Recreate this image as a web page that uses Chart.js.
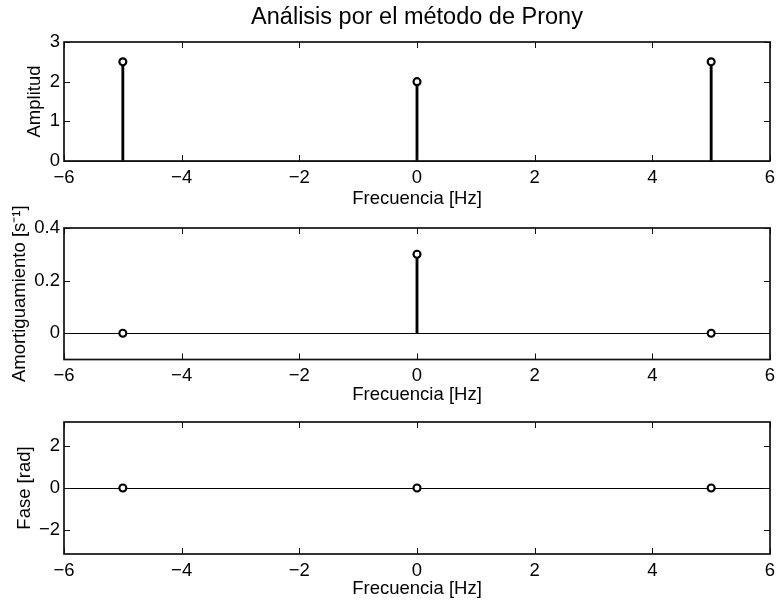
<!DOCTYPE html>
<html lang="es">
<head>
<meta charset="utf-8">
<title>Análisis por el método de Prony</title>
<script src="https://cdn.jsdelivr.net/npm/chart.js@4.4.1/dist/chart.umd.min.js"></script>
<style>
  html, body { margin: 0; padding: 0; background: #fff; }
  #wrap { position: relative; width: 777px; height: 601px; }
  #wrap canvas { position: absolute; left: 0; top: 0; }
</style>
</head>
<body>
<div id="wrap">
  <canvas id="ampChart" width="777" height="601"></canvas>
  <canvas id="dampChart" width="777" height="601"></canvas>
  <canvas id="phaseChart" width="777" height="601"></canvas>
</div>
<script>
// =================== DATA (Prony components) ===================
const freqHz = [-5, 0, 5];
const amplitud = [2.5, 2.0, 2.5];
const amortiguamiento = [0, 0.3, 0];
const fase = [0, 0, 0];

const freqTicks = [-6, -4, -2, 0, 2, 4, 6];
const ampTicks = [0, 1, 2, 3];
const dampTicks = [0, 0.2, 0.4];
const phaseTicks = [-2, 0, 2];

// =================== STYLE ===================
const FONT = "'Liberation Sans', Arial, Helvetica, sans-serif";
const LABEL_SIZE = 18.5;
const TITLE_SIZE = 23.5;
const TICK_LEN = 6;
const LH = LABEL_SIZE * 1.2;

Chart.defaults.font.family = FONT;
Chart.defaults.color = "#000";

// frame around the axes + inward tick marks on all four sides
const boxFrame = {
  id: "boxFrame",
  afterDatasetsDraw(chart) {
    const { ctx, chartArea: a, scales } = chart;
    ctx.save();
    ctx.strokeStyle = "#111";
    ctx.lineWidth = 1;
    ctx.beginPath();
    scales.x.ticks.forEach((t) => {
      const px = Math.round(scales.x.getPixelForValue(t.value)) + 0.5;
      ctx.moveTo(px, a.bottom);
      ctx.lineTo(px, a.bottom - TICK_LEN);
      ctx.moveTo(px, a.top);
      ctx.lineTo(px, a.top + TICK_LEN);
    });
    scales.y.ticks.forEach((t) => {
      const py = Math.round(scales.y.getPixelForValue(t.value)) + 0.5;
      ctx.moveTo(a.left, py);
      ctx.lineTo(a.left + TICK_LEN, py);
      ctx.moveTo(a.right, py);
      ctx.lineTo(a.right - TICK_LEN, py);
    });
    ctx.stroke();
    ctx.lineWidth = 1.7;
    ctx.strokeRect(a.left, a.top, a.right - a.left, a.bottom - a.top);
    ctx.restore();
  },
};

function fmt(v) {
  return String(v).replace("-", "\u2212");
}

function stemPoints(values) {
  return freqHz.map((f, i) => ({ x: f, y: values[i] }));
}

// box: target pixel positions of plot area and axis titles
function makePanel(id, values, yCfg, box, title) {
  const yWidth = box.left - (box.yTitleX - LH / 2);
  const xScaleBottom = box.xTitleY + LH / 2;
  const pts = stemPoints(values);

  return new Chart(document.getElementById(id), {
    type: "bar",
    data: {
      datasets: [
        {
          type: "scatter",
          data: pts,
          pointStyle: "circle",
          pointRadius: 3.5,
          pointBorderWidth: 2.1,
          pointBorderColor: "#000",
          pointBackgroundColor: "#fff",
          order: 0,
        },
        {
          data: pts,
          barThickness: 2.2,
          backgroundColor: "#000",
          borderWidth: 0,
          order: 1,
        },
      ],
    },
    plugins: [boxFrame],
    options: {
      responsive: false,
      animation: false,
      events: [],
      layout: {
        padding: {
          left: box.yTitleX - LH / 2,
          right: 777 - box.right,
          top: title ? 0 : box.top,
          bottom: 601 - xScaleBottom,
        },
      },
      plugins: {
        legend: { display: false },
        tooltip: { enabled: false },
        title: title
          ? {
              display: true,
              text: title,
              fullSize: false,
              color: "#000",
              font: { size: TITLE_SIZE, weight: "normal" },
              padding: { top: box.titleY - (TITLE_SIZE * 1.2) / 2, bottom: box.top - box.titleY - (TITLE_SIZE * 1.2) / 2 },
            }
          : { display: false },
      },
      scales: {
        x: {
          type: "linear",
          min: freqTicks[0],
          max: freqTicks[freqTicks.length - 1],
          offset: false,
          afterBuildTicks: (s) => (s.ticks = freqTicks.map((v) => ({ value: v }))),
          afterFit: (s) => {
            s.height = xScaleBottom - box.bottom;
            // end labels may overhang the frame; keep the plot width fixed
            s.paddingLeft = 0;
            s.paddingRight = 0;
          },
          grid: { display: false, drawTicks: false, offset: false },
          border: { display: false },
          ticks: {
            padding: 5.5,
            maxRotation: 0,
            font: { size: LABEL_SIZE },
            callback: (v) => fmt(v),
          },
          title: {
            display: true,
            text: "Frecuencia [Hz]",
            padding: 0,
            font: { size: LABEL_SIZE },
          },
        },
        y: {
          min: yCfg.min,
          max: yCfg.max,
          afterBuildTicks: (s) => (s.ticks = yCfg.ticks.map((v) => ({ value: v }))),
          afterFit: (s) => (s.width = yWidth),
          grid: {
            drawTicks: false,
            lineWidth: 1,
            color: (c) => (c.tick && c.tick.value === 0 ? "#000" : "rgba(0,0,0,0)"),
          },
          border: { display: false },
          ticks: {
            padding: 4,
            font: { size: LABEL_SIZE },
            callback: (v) => fmt(v),
          },
          title: {
            display: true,
            text: yCfg.label,
            padding: 0,
            font: { size: LABEL_SIZE },
          },
        },
      },
    },
  });
}

// =================== PANELS ===================
makePanel(
  "ampChart",
  amplitud,
  { min: 0, max: 3, ticks: ampTicks, label: "Amplitud" },
  { left: 64, right: 770, top: 42, bottom: 161, yTitleX: 35, xTitleY: 198.5, titleY: 18 },
  "Análisis por el método de Prony"
);

makePanel(
  "dampChart",
  amortiguamiento,
  { min: -0.1, max: 0.4, ticks: dampTicks, label: "Amortiguamiento [s\u207B\u00B9]" },
  { left: 64, right: 770, top: 228, bottom: 359.5, yTitleX: 19.5, xTitleY: 394.5 }
);

makePanel(
  "phaseChart",
  fase,
  { min: -Math.PI, max: Math.PI, ticks: phaseTicks, label: "Fase [rad]" },
  { left: 64, right: 770, top: 422, bottom: 554, yTitleX: 25, xTitleY: 589 }
);
</script>
</body>
</html>
